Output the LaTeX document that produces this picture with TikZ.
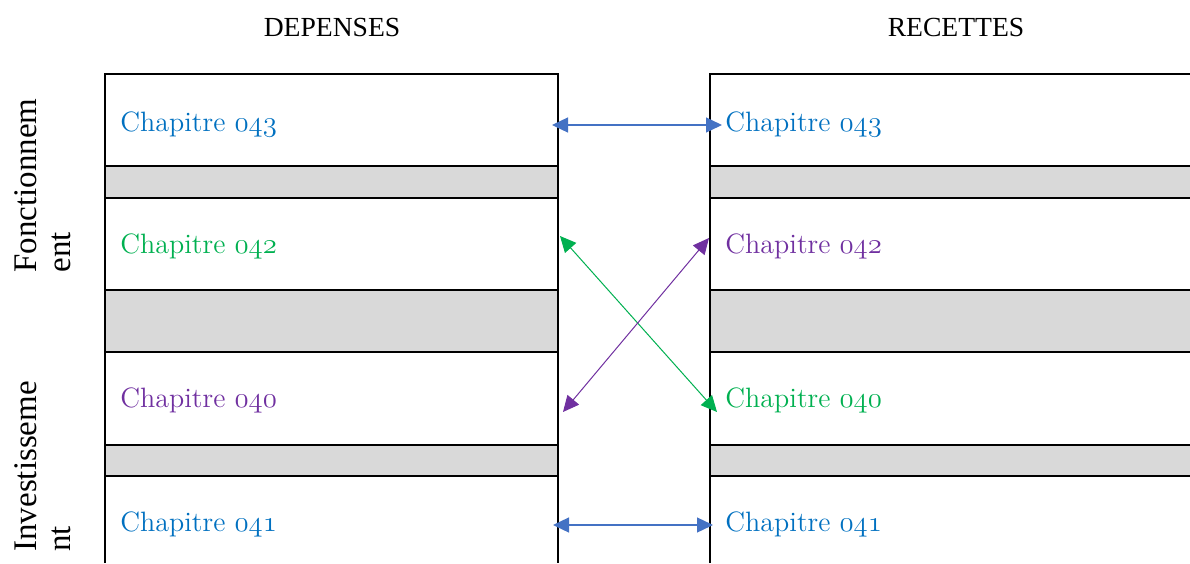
\documentclass[tikz,border=0pt]{standalone}
\usepackage{fontspec}
\newfontfamily\timesf{Liberation Serif}
\usetikzlibrary{arrows.meta}
\definecolor{cblue}{RGB}{0,112,192}
\definecolor{cgreen}{RGB}{0,176,80}
\definecolor{cpurple}{RGB}{112,48,160}
\definecolor{ablue}{RGB}{68,114,196}
\definecolor{cgray}{RGB}{217,217,217}
\newcommand\osfdigits[1]{{\fontencoding{OML}\fontfamily{cmm}\fontseries{m}\fontshape{it}\selectfont #1}}
\tikzset{
  chap/.style={anchor=base west, inner sep=0pt, font=\fontsize{14}{16}\selectfont},
  head/.style={anchor=base, inner sep=0pt, font=\timesf\fontsize{13.8}{16}\selectfont},
  side/.style={anchor=south west, inner sep=0pt, rotate=90, align=left, font=\timesf\fontsize{16.5}{17}\selectfont},
  frame/.style={line width=1pt, black},
  band/.style={fill=cgray, draw=none},
  link/.style={{Triangle[length=8pt,width=7.5pt]}-{Triangle[length=8pt,width=7.5pt]}},
}
\begin{document}
\begin{tikzpicture}[x=0.5pt,y=-0.5pt]
\useasboundingbox (0,0) rectangle (1190,563);
% gray bands
\foreach \a/\b in {166/198,290/352,445/476}{
  \path[band] (105,\a) rectangle (558,\b);
  \path[band] (710,\a) rectangle (1190,\b);
}
% left table
\draw[frame] (105,563) -- (105,74) -- (558,74) -- (558,563);
\foreach \y in {166,198,290,352,445,476}{ \draw[frame] (105,\y) -- (558,\y); }
% right table
\draw[frame] (710,563) -- (710,74) -- (1190,74);
\foreach \y in {166,198,290,352,445,476}{ \draw[frame] (710,\y) -- (1190,\y); }
% headers
\node[head] (hd) at (332,36) {DEPENSES};
\node[head] (hr) at (956,36) {RECETTES};
% side labels
\node[side] (sf) at (71,273) {Fonctionnem\\ent};
\node[side] (si) at (71,552) {Investisseme\\nt};
% texts
\node[chap, text=cblue]   (l1) at (120,131) {Chapitre \osfdigits{043}};
\node[chap, text=cgreen]  (l2) at (120,253) {Chapitre \osfdigits{042}};
\node[chap, text=cpurple] (l3) at (120,407) {Chapitre \osfdigits{040}};
\node[chap, text=cblue]   (l4) at (120,531) {Chapitre \osfdigits{041}};
\node[chap, text=cblue]   (r1) at (725,131) {Chapitre \osfdigits{043}};
\node[chap, text=cpurple] (r2) at (725,253) {Chapitre \osfdigits{042}};
\node[chap, text=cgreen]  (r3) at (725,407) {Chapitre \osfdigits{040}};
\node[chap, text=cblue]   (r4) at (725,531) {Chapitre \osfdigits{041}};
% arrow ends
\coordinate (a1l) at (552,125);
\coordinate (a1r) at (722,125);
\coordinate (a4l) at (553,525);
\coordinate (a4r) at (713,525);
\coordinate (gl) at (560,236);
\coordinate (gr) at (717,412);
\coordinate (pr) at (709,238);
\coordinate (pl) at (563,412);
% arrows
\draw[link, ablue, line width=0.65pt] (a1l) -- (a1r);
\draw[link, ablue, line width=0.65pt] (a4l) -- (a4r);
\draw[link, cgreen, line width=0.5pt] (gl) -- (gr);
\draw[link, cpurple, line width=0.5pt] (pl) -- (pr);
\end{tikzpicture}
\end{document}
